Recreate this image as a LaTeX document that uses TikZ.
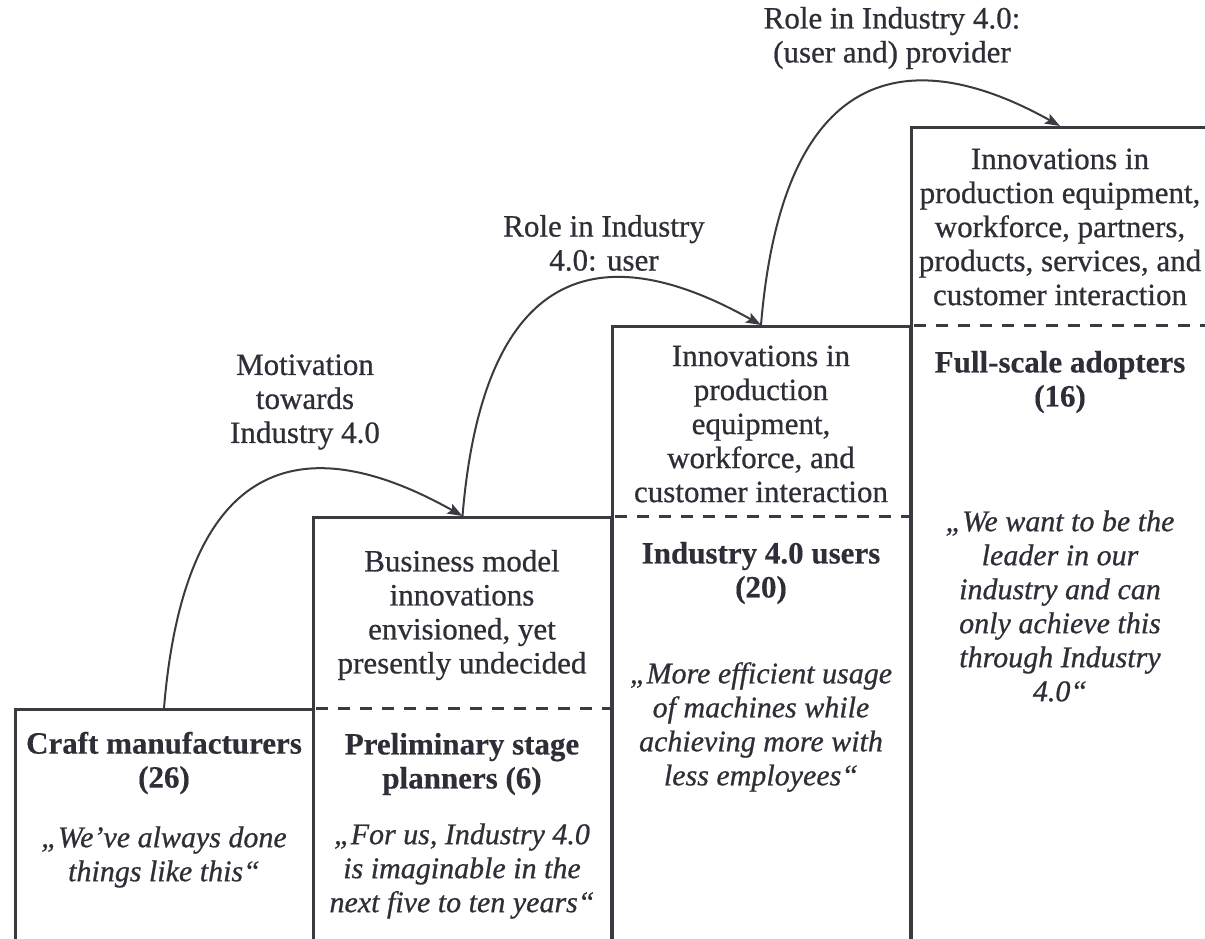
\documentclass[tikz,border=0pt]{standalone}
\usepackage{fontspec}
\setmainfont{Liberation Serif}[UprightFeatures={FakeBold=0.7},ItalicFeatures={FakeBold=0.7},BoldFeatures={FakeBold=0.4}]
\usetikzlibrary{arrows.meta}
\definecolor{ink}{HTML}{2E2E38}
\definecolor{linec}{HTML}{3A3A42}
\begin{document}
\begin{tikzpicture}[x=1pt,y=-1pt,
  txt/.style={text=ink, align=center, font=\fontsize{31}{34}\selectfont, inner sep=0pt},
  ttl/.style={txt, font=\fontsize{31}{34}\selectfont\bfseries},
  quo/.style={txt, font=\fontsize{30}{34}\selectfont\itshape},
  stepbox/.style={draw=linec, line width=3pt, minimum width=298pt, inner sep=0pt, anchor=north},
  sep/.style={draw=linec, line width=3pt, dash pattern=on 12pt off 10pt, shorten <=4pt, shorten >=2pt},
  arr/.style={draw=linec, line width=2pt, -{Stealth[length=15pt,width=11pt,inset=3pt]}}]
\useasboundingbox (0,0) rectangle (1205,938);
\clip (0,0) rectangle (1205,938);
% boxes (steps)
\node[stepbox, minimum height=260pt] (b1) at (164,708) {};
\node[stepbox, minimum height=460pt] (b2) at (462.5,516) {};
\node[stepbox, minimum height=650pt] (b3) at (761,325) {};
\node[stepbox, minimum height=850pt] (b4) at (1060,126) {};
% dashed separators
\draw[sep] (b2.north west |- b1.north) -- (b2.north east |- b1.north);
\draw[sep] (b3.north west |- b2.north) -- (b3.north east |- b2.north);
\draw[sep] (b4.north west |- b3.north) -- (b4.north east |- b3.north);
% arrows
\draw[arr] (b1.north) .. controls +(25,-300) and +(-114,-64) .. (b2.north);
\draw[arr] (b2.north) .. controls +(25,-300) and +(-114,-64) .. (b3.north);
\draw[arr] (b3.north) .. controls +(25,-300) and +(-114,-64) .. (b4.north);
% arrow labels
\node[txt] (l1) at (305,402) {Motivation\\towards\\Industry 4.0};
\node[txt] (l2) at (604,243) {Role in Industry\\4.0: user};
\node[txt] (l3) at (892,38) {Role in Industry 4.0:\\(user and) provider};
% box texts
\node[ttl] (t1) at (164,763) {Craft manufacturers\\(26)};
\node[quo] (q1) at (164,857) {„We’ve always done\\things like this“};
\node[txt] (d2) at (462,615) {Business model\\innovations\\envisioned, yet\\presently undecided};
\node[ttl] (t2) at (462,764) {Preliminary stage\\planners (6)};
\node[quo] (q2) at (462,871) {„For us, Industry 4.0\\is imaginable in the\\next five to ten years“};
\node[txt] (d3) at (761,424) {Innovations in\\production\\equipment,\\workforce, and\\customer interaction};
\node[ttl] (t3) at (761,573) {Industry 4.0 users\\(20)};
\node[quo] (q3) at (761,727) {„More efficient usage\\of machines while\\achieving more with\\less employees“};
\node[txt] (d4) at (1060,227) {Innovations in\\production equipment,\\workforce, partners,\\products, services, and\\customer interaction};
\node[ttl] (t4) at (1060,382) {Full-scale adopters\\(16)};
\node[quo] (q4) at (1060,606) {„We want to be the\\leader in our\\industry and can\\only achieve this\\through Industry\\4.0“};
\end{tikzpicture}
\end{document}
